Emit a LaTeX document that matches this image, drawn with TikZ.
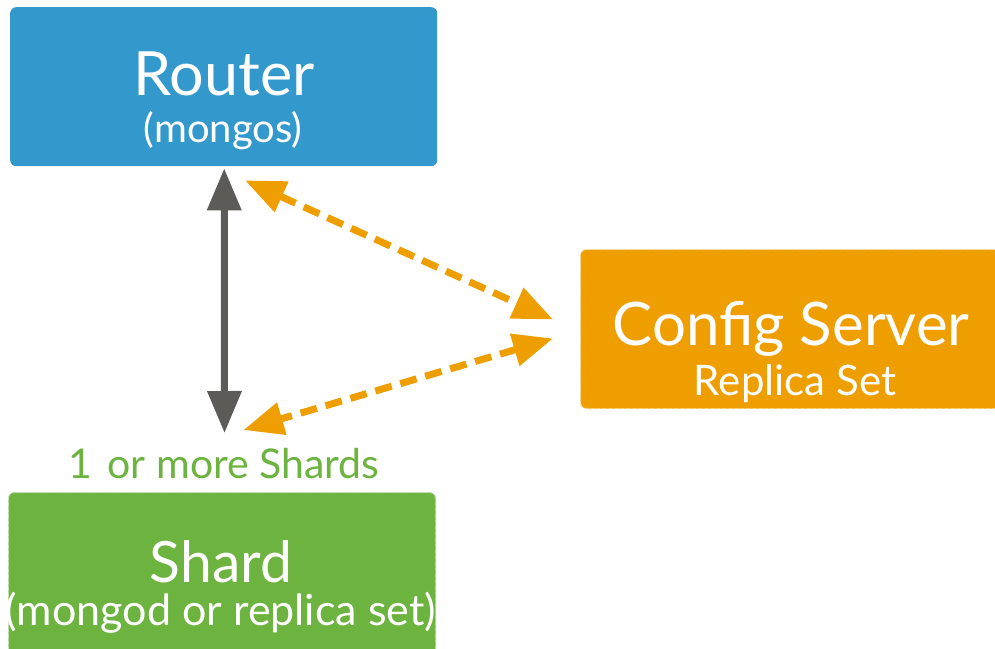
\documentclass[tikz,border=0pt]{standalone}
\usepackage{fontspec}
\setmainfont{Lato}
\usetikzlibrary{arrows.meta}
\definecolor{routerblue}{HTML}{3399CC}
\definecolor{cfgorange}{HTML}{EF9E00}
\definecolor{shardgreen}{HTML}{6DB33F}
\definecolor{linkgray}{HTML}{5C5B57}
\tikzset{
  box/.style={anchor=north west, inner sep=0pt, rounded corners=6pt},
  title/.style={anchor=base, text=white, inner sep=0pt},
  grayarrow/.style={draw=linkgray, line width=7pt, {Triangle[length=42pt,width=33pt]}-{Triangle[length=42pt,width=33pt]}},
  orangearrow/.style={draw=cfgorange, line width=7pt, dash pattern=on 17pt off 9pt, {Triangle[length=40pt,width=32pt]}-{Triangle[length=40pt,width=32pt]}},
}
\newcommand{\fsz}[1]{\fontsize{#1}{#1}\selectfont}
\begin{document}
\begin{tikzpicture}[x=1pt,y=-1pt]
\useasboundingbox (0,0) rectangle (995,648);
\clip (0,0) rectangle (995,648);
% boxes
\node[box, fill=routerblue, minimum width=427pt, minimum height=159pt] (router) at (10,7) {};
\node[box, fill=cfgorange, draw=cfgorange!45, dashed, line width=1pt, minimum width=430pt, minimum height=159pt] (config) at (580,249) {};
\node[box, fill=shardgreen, draw=shardgreen!50, dashed, line width=1pt, minimum width=427pt, minimum height=180pt] (shard) at (8,492) {};
% texts
\node[title, font=\fsz{61}] (routert) at (224,95) {Router};
\node[title, font=\fsz{40}] (routers) at (223,142) {(mongos)};
\node[title, font=\fsz{60}] (configt) at (791,345) {Config Server};
\node[title, font=\fsz{42}] (configs) at (795,395) {Replica Set};
\node[title, font=\fsz{57}] (shardt) at (221,582) {Shard};
\node[title, font=\fsz{43}] (shards) at (221,625) {(mongod or replica set)};
\node[anchor=base, inner sep=0pt, text=shardgreen, font=\fsz{41}] (shardlbl) at (224,478) {1\hspace{0.12em} or more Shards};
% connectors
\draw[grayarrow] ([xshift=0.5pt,yshift=-2pt]router.south) -- ([xshift=2.5pt,yshift=59pt]shard.north);
\draw[orangearrow] ([xshift=21.5pt,yshift=-14pt]router.south) -- ([xshift=-27pt,yshift=9.5pt]config.west);
\draw[orangearrow] ([xshift=-27pt,yshift=-9.5pt]config.west) -- ([xshift=21.5pt,yshift=62pt]shard.north);
\end{tikzpicture}
\end{document}
